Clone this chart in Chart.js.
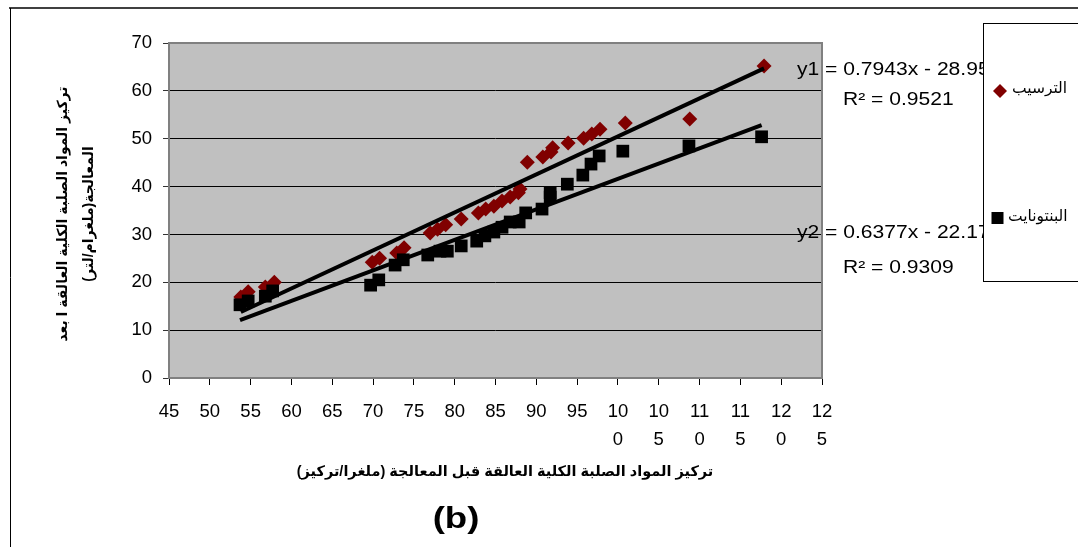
<!DOCTYPE html>
<html lang="ar">
<head>
<meta charset="utf-8">
<title>تركيز المواد الصلبة الكلية العالقة</title>
<script src="https://cdn.jsdelivr.net/npm/chart.js@4.4.1/dist/chart.umd.min.js"></script>
<style>
  html, body { margin: 0; padding: 0; background: #fff; overflow: hidden; }
  canvas { display: block; }
</style>
</head>
<body>
<canvas id="chart" width="1078" height="547"></canvas>
<script>
// Sedimentation (الترسيب): TSS before vs. after treatment
const sedX = [53.8, 54.7, 56.8, 57.9, 69.9, 70.8, 72.9, 73.8, 77.0, 77.9, 78.9, 80.8, 82.9, 83.8, 84.8,
              85.8, 86.8, 87.8, 88.0, 88.9, 90.8, 91.8, 92.0, 93.9, 95.8, 96.8, 97.8, 100.9, 108.8, 117.9];
const sedY = [16.9, 18.0, 19.0, 20.0, 24.2, 25.0, 26.1, 27.2, 30.3, 31.1, 32.0, 33.2, 34.5, 35.3, 35.9,
              37.0, 37.8, 38.7, 39.5, 45.1, 46.2, 47.2, 48.1, 49.1, 50.1, 51.0, 52.0, 53.3, 54.1, 65.2];

// Bentonite (البنتونايت)
const bentX = [53.7, 54.7, 56.8, 57.7, 69.7, 70.7, 72.7, 73.7, 76.7, 78.2, 79.1, 80.8, 82.7, 83.7, 84.8,
               85.8, 86.8, 87.9, 88.7, 90.7, 91.7, 91.7, 93.8, 95.7, 96.7, 97.7, 100.6, 108.7, 117.6];
const bentY = [15.3, 16.1, 17.1, 18.2, 19.4, 20.5, 23.6, 24.7, 25.7, 26.5, 26.5, 27.6, 28.6, 29.7, 30.5,
               31.5, 32.6, 32.6, 34.5, 35.3, 37.8, 38.7, 40.5, 42.4, 44.7, 46.4, 47.4, 48.5, 50.4];

const seriesNames = ['الترسيب', 'البنتونايت'];

// Linear trend lines: y = slope * x + intercept
const slopes = [0.7943, 0.6377];
const intercepts = [-28.95, -22.17];
const rSquared = [0.9521, 0.9309];

const xTickLabels = ['45', '50', '55', '60', '65', '70', '75', '80', '85', '90', '95',
                     ['10', '0'], ['10', '5'], ['11', '0'], ['11', '5'], ['12', '0'], ['12', '5']];

const xTitle = 'تركيز المواد الصلبة الكلية العالقة قبل المعالجة (ملغرا/تركيز)';
const yTitleLines = ['تركيز المواد الصلبة الكلية العالقة ا بعد', 'المعالجة(ملغرام/لتر)'];
const panelLabel = '(b)';

const RED = '#800000';
const LATIN = 'Arial, "Liberation Sans", sans-serif';
const ARABIC = 'Arial, "Liberation Sans", "DejaVu Sans", sans-serif';

function toPoints(xs, ys) {
  return xs.map((x, i) => ({ x: x, y: ys[i] }));
}

function trendPoints(k, xs) {
  const lo = Math.min(...xs), hi = Math.max(...xs);
  return [{ x: lo, y: slopes[k] * lo + intercepts[k] },
          { x: hi, y: slopes[k] * hi + intercepts[k] }];
}

function equationText(k) {
  const sign = intercepts[k] < 0 ? ' - ' : ' + ';
  return 'y' + (k + 1) + ' = ' + slopes[k] + 'x' + sign + Math.abs(intercepts[k]).toFixed(2);
}

// text drawn slightly widened, like the office-chart rendering
function wideText(ctx, text, x, y, sx) {
  ctx.save();
  ctx.translate(x, y);
  ctx.scale(sx, 1);
  ctx.fillText(text, 0, 0);
  ctx.restore();
}

// Grey plot background and its frame
const plotFrame = {
  id: 'plotFrame',
  beforeDraw(chart) {
    const { ctx, chartArea: a } = chart;
    ctx.save();
    ctx.fillStyle = '#c0c0c0';
    ctx.fillRect(a.left, a.top, a.right - a.left, a.bottom - a.top);
    ctx.restore();
  },
  beforeDatasetsDraw(chart) {
    const { ctx, chartArea: a } = chart;
    ctx.save();
    ctx.strokeStyle = '#808080';
    ctx.lineWidth = 2;
    ctx.strokeRect(a.left, a.top, a.right - a.left, a.bottom - a.top);
    ctx.restore();
  }
};

// Titles, equations, legend box and outer frame
const annotations = {
  id: 'annotations',
  afterDraw(chart) {
    const { ctx } = chart;
    ctx.save();

    // outer frame
    ctx.strokeStyle = '#404040';
    ctx.lineWidth = 2;
    ctx.beginPath();
    ctx.moveTo(9, 8);
    ctx.lineTo(1078, 8);
    ctx.stroke();
    ctx.strokeStyle = '#000';
    ctx.lineWidth = 1;
    ctx.beginPath();
    ctx.moveTo(10.5, 8);
    ctx.lineTo(10.5, 547);
    ctx.stroke();

    // axis titles
    ctx.fillStyle = '#000';
    ctx.textAlign = 'center';
    ctx.textBaseline = 'middle';
    ctx.font = 'bold 14.5px ' + ARABIC;
    ctx.fillText(xTitle, 505, 472);

    ctx.save();
    ctx.translate(63, 214);
    ctx.rotate(-Math.PI / 2);
    ctx.font = 'bold 14px ' + ARABIC;
    ctx.fillText(yTitleLines[0], 0, 0);
    ctx.fillText(yTitleLines[1], 0, 26);
    ctx.restore();

    ctx.font = 'bold 30px ' + LATIN;
    wideText(ctx, panelLabel, 456, 520, 1.22);

    // trend line equations
    ctx.textAlign = 'left';
    ctx.font = '18px ' + LATIN;
    const eqY = [70, 233];
    const r2Y = [100, 268];
    for (let k = 0; k < 2; k++) {
      wideText(ctx, equationText(k), 797, eqY[k], 1.17);
      wideText(ctx, 'R² = ' + rSquared[k], 843, r2Y[k], 1.17);
    }

    // legend
    ctx.fillStyle = '#fff';
    ctx.fillRect(983.5, 23.5, 120, 258);
    ctx.strokeStyle = '#000';
    ctx.lineWidth = 1;
    ctx.strokeRect(983.5, 23.5, 120, 258);

    ctx.fillStyle = RED;
    ctx.beginPath();
    ctx.moveTo(1000, 84);
    ctx.lineTo(1007, 91);
    ctx.lineTo(1000, 98);
    ctx.lineTo(993, 91);
    ctx.closePath();
    ctx.fill();
    ctx.fillStyle = '#000';
    ctx.fillRect(991.5, 212, 12, 12);

    ctx.font = '15.5px ' + ARABIC;
    ctx.fillText(seriesNames[0], 1012, 89);
    ctx.fillText(seriesNames[1], 1008, 217);

    ctx.restore();
  }
};

new Chart(document.getElementById('chart'), {
  type: 'scatter',
  data: {
    datasets: [
      {
        label: seriesNames[0],
        data: toPoints(sedX, sedY),
        pointStyle: 'rectRot',
        radius: 7.5,
        backgroundColor: RED,
        borderColor: RED,
        borderWidth: 0,
        order: 2
      },
      {
        label: seriesNames[1],
        data: toPoints(bentX, bentY),
        pointStyle: 'rect',
        radius: 9,
        backgroundColor: '#000',
        borderColor: '#000',
        borderWidth: 0,
        order: 1
      },
      {
        label: 'y1',
        data: trendPoints(0, sedX),
        showLine: true,
        borderColor: '#000',
        borderWidth: 4,
        pointRadius: 0,
        order: 0
      },
      {
        label: 'y2',
        data: trendPoints(1, bentX),
        showLine: true,
        borderColor: '#000',
        borderWidth: 4,
        pointRadius: 0,
        order: 0
      }
    ]
  },
  options: {
    responsive: false,
    animation: false,
    devicePixelRatio: 1,
    layout: { padding: { left: 0, top: 43, right: 256, bottom: 0 } },
    plugins: {
      legend: { display: false },
      tooltip: { enabled: false },
      title: { display: false }
    },
    scales: {
      x: {
        type: 'linear',
        min: 45,
        max: 125,
        afterFit(scale) { scale.height = 169; },
        border: { display: false },
        grid: { drawOnChartArea: false, drawTicks: true, tickLength: 7, color: '#000', lineWidth: 1 },
        ticks: {
          stepSize: 5,
          autoSkip: false,
          maxRotation: 0,
          padding: 13,
          color: '#000',
          font: { family: LATIN, size: 18.5, lineHeight: 1.5 },
          callback: (v, i) => xTickLabels[i]
        }
      },
      y: {
        min: 0,
        max: 70,
        afterFit(scale) { scale.width = 169; },
        border: { display: false },
        grid: { color: '#000', lineWidth: 1, drawTicks: true, tickLength: 6, tickColor: '#333' },
        ticks: {
          stepSize: 10,
          padding: 11,
          color: '#000',
          font: { family: LATIN, size: 18.5 }
        }
      }
    }
  },
  plugins: [plotFrame, annotations]
});
</script>
</body>
</html>
